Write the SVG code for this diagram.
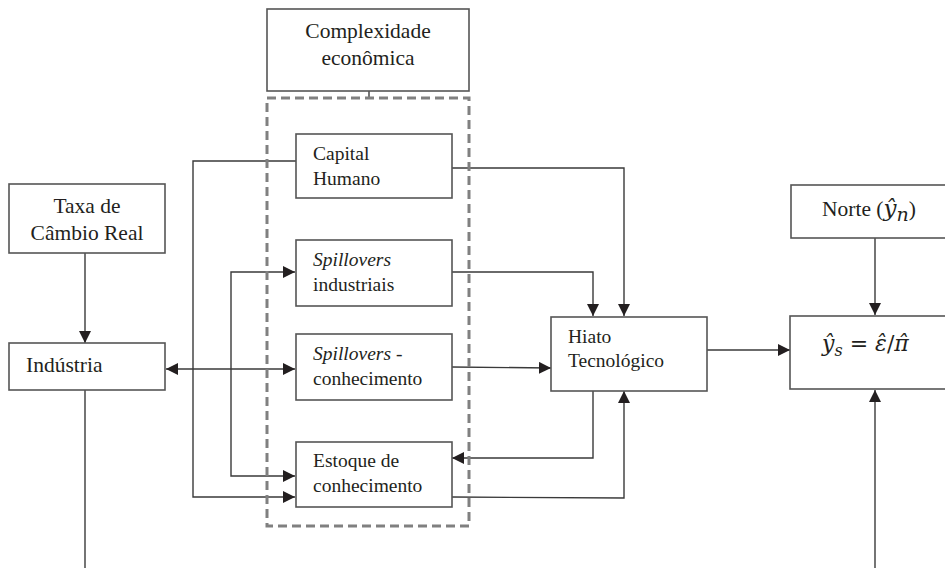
<svg xmlns="http://www.w3.org/2000/svg" width="945" height="568" viewBox="0 0 945 568">
<defs>
<marker id="ah" markerUnits="userSpaceOnUse" markerWidth="12" markerHeight="12" refX="12" refY="6" orient="auto-start-reverse">
<path d="M0,0 L12,6 L0,12 z" fill="#231f20"/>
</marker>
<style>
.box{fill:#fff;stroke:#555;stroke-width:1.6}
.ln{fill:none;stroke:#3a3a3a;stroke-width:1.4}
.t{font-family:"Liberation Serif","Times New Roman",serif;fill:#231f20}
.m{font-family:"DejaVu Serif","Liberation Serif",serif;fill:#231f20}
.big{font-size:21.5px}
.sm{font-size:19.5px}
.it{font-style:italic}
</style>
</defs>
<rect width="945" height="568" fill="#fff"/>
<g id="connectors">
<line class="ln" x1="369" y1="91" x2="369" y2="98"/>
<line class="ln" x1="85" y1="253" x2="85" y2="343" marker-end="url(#ah)"/>
<line class="ln" x1="85" y1="390" x2="85" y2="568"/>
<line class="ln" x1="166" y1="369" x2="295" y2="369" marker-start="url(#ah)" marker-end="url(#ah)"/>
<polyline class="ln" points="296,161 193,161 193,497 295,497" marker-end="url(#ah)"/>
<polyline class="ln" points="231,369 231,272 295,272" marker-end="url(#ah)"/>
<polyline class="ln" points="231,369 231,476 295,476" marker-end="url(#ah)"/>
<polyline class="ln" points="452,168 624,168 624,316" marker-end="url(#ah)"/>
<polyline class="ln" points="452,272 593,272 593,316" marker-end="url(#ah)"/>
<line class="ln" x1="452" y1="367" x2="551" y2="368" marker-end="url(#ah)"/>
<line class="ln" x1="707" y1="350" x2="790" y2="350" marker-end="url(#ah)"/>
<line class="ln" x1="875" y1="238" x2="875" y2="315" marker-end="url(#ah)"/>
<polyline class="ln" points="593,391 593,458 452,458" marker-end="url(#ah)"/>
<polyline class="ln" points="452,497 624,498 624,391" marker-end="url(#ah)"/>
<line class="ln" x1="875" y1="568" x2="875" y2="390" marker-end="url(#ah)"/>
</g>
<g id="grupo-complexidade">
<rect x="267" y="98" width="202" height="428" fill="none" stroke="#808080" stroke-width="3" stroke-dasharray="9,5"/>
</g>
<g id="complexidade">
<rect class="box" x="267" y="9" width="202" height="82"/>
<text class="t big" x="368" y="38" text-anchor="middle">Complexidade</text>
<text class="t big" x="368" y="65" text-anchor="middle">econômica</text>
</g>
<g id="taxa">
<rect class="box" x="9" y="184" width="156" height="69"/>
<text class="t big" x="87" y="213" text-anchor="middle">Taxa de</text>
<text class="t big" x="87" y="240" text-anchor="middle">Câmbio Real</text>
</g>
<g id="industria">
<rect class="box" x="9" y="343" width="156" height="47"/>
<text class="t big" x="26" y="372">Indústria</text>
</g>
<g id="capital">
<rect class="box" x="296" y="134" width="156" height="64"/>
<text class="t sm" x="313" y="160">Capital</text>
<text class="t sm" x="313" y="185">Humano</text>
</g>
<g id="spill-ind">
<rect class="box" x="296" y="240" width="156" height="66"/>
<text class="t sm it" x="313" y="266">Spillovers</text>
<text class="t sm" x="313" y="291">industriais</text>
</g>
<g id="spill-con">
<rect class="box" x="296" y="334" width="156" height="66"/>
<text class="t sm" x="313" y="360"><tspan class="it">Spillovers</tspan>  -</text>
<text class="t sm" x="313" y="385">conhecimento</text>
</g>
<g id="estoque">
<rect class="box" x="296" y="442" width="156" height="65"/>
<text class="t sm" x="313" y="467">Estoque de</text>
<text class="t sm" x="313" y="492">conhecimento</text>
</g>
<g id="hiato">
<rect class="box" x="551" y="317" width="156" height="74"/>
<text class="t sm" x="568" y="343">Hiato</text>
<text class="t sm" x="568" y="367">Tecnológico</text>
</g>
<g id="norte">
<rect class="box" x="791" y="185" width="170" height="53"/>
<text class="t big" x="822" y="216">Norte (<tspan class="m it" font-size="23">ŷ</tspan><tspan class="m it" font-size="19" dy="5">n</tspan><tspan dy="-5">)</tspan></text>
</g>
<g id="ys">
<rect class="box" x="790" y="316" width="170" height="73"/>
<text class="m" font-size="22" x="822" y="351"><tspan class="it">ŷ</tspan><tspan class="it" font-size="16" dy="5">s</tspan><tspan dy="-5"> = </tspan><tspan class="it">ε̂</tspan>/<tspan class="it">π̂</tspan></text>
</g>
</svg>
